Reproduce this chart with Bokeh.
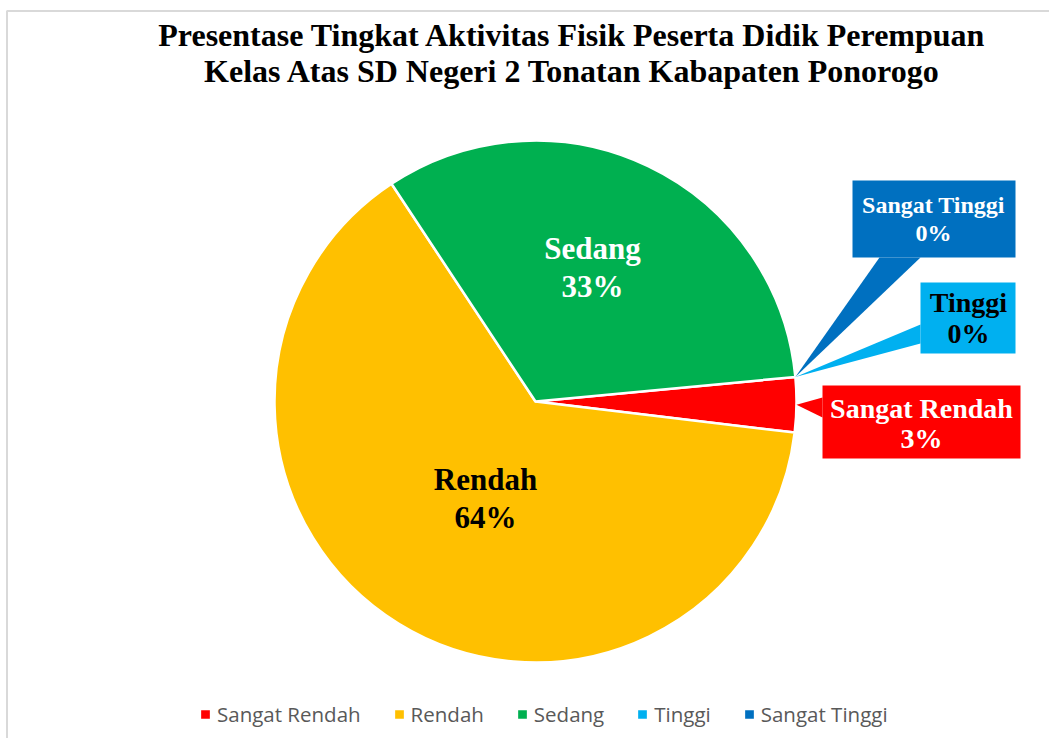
import math
from bokeh.plotting import figure
from bokeh.models import ColumnDataSource, Range1d, Legend, LegendItem
from bokeh.core.properties import value
from bokeh.embed import file_html
from bokeh.resources import INLINE

# ---------------- data ----------------
categories = ["Sangat Rendah", "Rendah", "Sedang", "Tinggi", "Sangat Tinggi"]
percent = [3.4, 63.8, 32.8, 0.0, 0.0]
colors = ["#FF0000", "#FFC000", "#00B050", "#00B0F0", "#0070C0"]
title_lines = ["Presentase Tingkat Aktivitas Fisik Peserta Didik Perempuan",
               "Kelas Atas SD Negeri 2 Tonatan Kabapaten Ponorogo"]

# ---------------- layout ----------------
W, H = 1049, 738
BASE_FIX = 0.36  # baseline correction (fraction of font size)


def X(ix):
    return ix


def Y(iy):
    return H - iy


def YT(iy, size):
    return Y(iy - BASE_FIX * size)


CX, CY, R = X(535), Y(401), 261
START = math.radians(5.4)

total = sum(percent)
starts, ends = [], []
a = START
for v in percent:
    starts.append(a)
    a -= v / total * 2 * math.pi
    ends.append(a)

pct_text = [f"{round(v)}%" for v in percent]
radii = [R if v > 0 else 0 for v in percent]

src = ColumnDataSource(dict(cat=categories, val=percent, color=colors,
                            start=starts, end=ends, radius=radii))

p = figure(width=W, height=H, x_range=Range1d(0, W), y_range=Range1d(0, H),
           output_backend="svg", toolbar_location=None, min_border=0)
p.axis.visible = False
p.grid.visible = False
p.outline_line_color = None
p.background_fill_color = "white"
p.border_fill_color = "white"

# chart frame (left and top edges visible)
p.line([X(6.5), X(6.5), W], [0, Y(10.5), Y(10.5)], line_color="#D9D9D9", line_width=2)

# pie
wr = p.wedge(x=CX, y=CY, radius="radius", start_angle="start", end_angle="end",
             direction="clock", fill_color="color", line_color="white",
             line_width=2.5, source=src)

# title
p.text(x=[X(572)] * 2, y=[YT(46, 32), YT(82, 32)], text=title_lines,
       text_font=value("Liberation Serif"), text_font_style="bold",
       text_font_size="32px", text_align="center", text_baseline="alphabetic",
       text_color="black")

# inside labels (Rendah, Sedang)
inside = {1: (485, 490, 528, "black"), 2: (592, 259, 297, "white")}
for i, (lx, b1, b2, col) in inside.items():
    p.text(x=[X(lx), X(lx)], y=[YT(b1, 31), YT(b2, 31)],
           text=[categories[i], pct_text[i]],
           text_font=value("Liberation Serif"), text_font_style="bold",
           text_font_size="31px", text_align="center",
           text_baseline="alphabetic", text_color=col)


def tip_at(angle):
    return CX + R * math.cos(angle), CY + R * math.sin(angle)


# callout boxes
callouts = {
    0: dict(box=(822, 1020, 385, 458), base=[(822, 397), (822, 417)],
            tx=921, b=(418, 448), fs=28, tc="white",
            tip=tip_at((starts[0] + ends[0]) / 2)),
    3: dict(box=(920, 1015, 282, 353), base=[(920, 324), (920, 343)],
            tx=968, b=(312, 343), fs=28, tc="black",
            tip=tip_at(starts[3])),
    4: dict(box=(852, 1015, 180, 257), base=[(879, 257), (920, 257)],
            tx=933, b=(213, 241), fs=24, tc="white",
            tip=tip_at(starts[4])),
}
for i, c in callouts.items():
    l, r, t, b = c["box"]
    (x1, y1), (x2, y2) = c["base"]
    tx, ty = c["tip"]
    p.patch([X(x1), tx, X(x2)], [Y(y1), ty, Y(y2)], fill_color=colors[i],
            line_color=None)
    p.quad(left=[X(l)], right=[X(r)], top=[Y(t)], bottom=[Y(b)],
           fill_color=colors[i], line_color=None)
    fs = c["fs"]
    p.text(x=[X(c["tx"])] * 2, y=[YT(c["b"][0], fs), YT(c["b"][1], fs)],
           text=[categories[i], pct_text[i]],
           text_font=value("Liberation Serif"), text_font_style="bold",
           text_font_size=f"{fs}px", text_align="center",
           text_baseline="alphabetic", text_color=c["tc"])

# legend
items = [LegendItem(label=c, renderers=[wr], index=i) for i, c in enumerate(categories)]
legend = Legend(items=items, orientation="horizontal", location=(X(198), 10),
                glyph_width=14, glyph_height=14, label_standoff=5, spacing=31,
                padding=0, margin=0, border_line_color=None,
                background_fill_alpha=0, label_text_font="Open Sans",
                label_text_font_size="20.5px", label_text_color="#595959",
                label_height=20)
p.add_layout(legend, "center")

open("out.html", "w").write(file_html(p, INLINE))
